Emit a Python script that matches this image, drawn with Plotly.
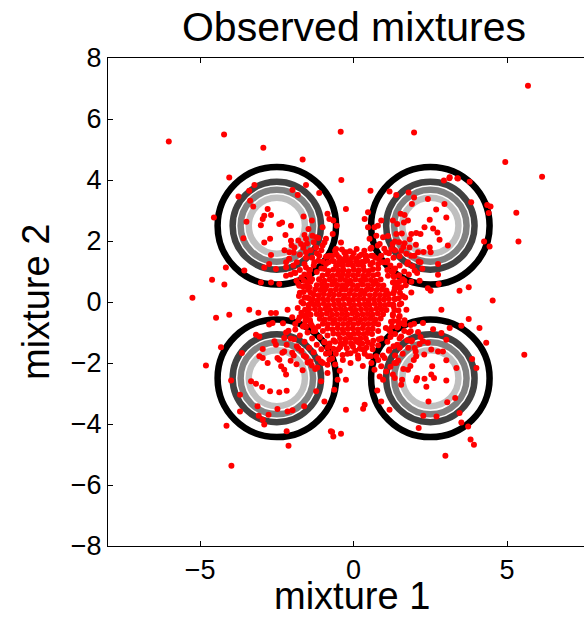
import plotly.graph_objects as go

# ---------------- data ----------------
title_text = "Observed mixtures"
x_label = "mixture 1"
y_label = "mixture 2"
x_ticks = [-5, 0, 5]
y_ticks = [-8, -6, -4, -2, 0, 2, 4, 6, 8]

# contour circles: centres and radii (levels from inner to outer)
circle_cx = [-2.5, 2.5, -2.5, 2.5]
circle_cy = [2.5, 2.5, -2.5, -2.5]
ring_radius = [0.915, 1.18, 1.44, 1.93]
ring_color = ["#bfbfbf", "#808080", "#404040", "#000000"]

# dense central cloud
core_x = [-0.52, -0.35, -0.18, -0.02, 0.15, 0.31,
          -0.82, -0.66, -0.49, -0.33, -0.16, 0.01, 0.17, 0.34, 0.50, 0.63,
          -1.01, -0.85, -0.68, -0.52, -0.35, -0.19, -0.02, 0.14, 0.31, 0.47, 0.64, 0.79,
          -1.12, -0.95, -0.78, -0.61, -0.44, -0.27, -0.11, 0.06, 0.23, 0.39, 0.56, 0.72, 0.88,
          -1.20, -1.03, -0.87, -0.70, -0.53, -0.36, -0.20, -0.03, 0.14, 0.30, 0.47, 0.64, 0.80, 0.97,
          -1.25, -1.08, -0.92, -0.75, -0.58, -0.41, -0.25, -0.08, 0.09, 0.25, 0.42, 0.58, 0.75, 0.92, 1.07,
          -1.30, -1.14, -0.97, -0.80, -0.64, -0.47, -0.30, -0.14, 0.03, 0.20, 0.36, 0.53, 0.70, 0.86, 1.03, 1.14,
          -1.33, -1.17, -1.00, -0.84, -0.67, -0.50, -0.34, -0.17, -0.01, 0.16, 0.33, 0.49, 0.66, 0.83, 0.99, 1.15,
          -1.30, -1.14, -0.97, -0.81, -0.64, -0.47, -0.31, -0.14, 0.02, 0.19, 0.36, 0.52, 0.69, 0.86, 1.02, 1.16,
          -1.26, -1.09, -0.92, -0.76, -0.59, -0.42, -0.26, -0.09, 0.07, 0.24, 0.41, 0.57, 0.74, 0.91, 1.07,
          -1.20, -1.04, -0.87, -0.70, -0.54, -0.37, -0.21, -0.04, 0.13, 0.29, 0.46, 0.62, 0.79, 0.96,
          -1.10, -0.94, -0.77, -0.61, -0.44, -0.28, -0.11, 0.05, 0.22, 0.38, 0.55, 0.71, 0.88,
          -1.00, -0.84, -0.67, -0.51, -0.34, -0.18, -0.01, 0.15, 0.32, 0.48, 0.65, 0.80,
          -0.85, -0.69, -0.52, -0.36, -0.19, -0.03, 0.14, 0.30, 0.47, 0.62,
          -0.66, -0.50, -0.33, -0.17, 0.00, 0.16, 0.33, 0.46,
          -0.44, -0.27, -0.10, 0.06, 0.22]
core_y = [1.21, 1.18, 1.23, 1.19, 1.22, 1.17,
          1.02, 1.06, 1.03, 1.05, 1.01, 1.06, 1.03, 1.04, 1.02, 1.07,
          0.87, 0.90, 0.86, 0.89, 0.91, 0.87, 0.88, 0.90, 0.86, 0.89, 0.88, 0.91,
          0.73, 0.70, 0.74, 0.71, 0.73, 0.72, 0.70, 0.74, 0.71, 0.73, 0.72, 0.70, 0.74,
          0.55, 0.58, 0.54, 0.57, 0.56, 0.55, 0.58, 0.56, 0.54, 0.57, 0.55, 0.58, 0.56, 0.54,
          0.41, 0.39, 0.42, 0.38, 0.41, 0.40, 0.42, 0.39, 0.41, 0.38, 0.40, 0.42, 0.39, 0.41, 0.38,
          0.25, 0.22, 0.26, 0.23, 0.24, 0.25, 0.22, 0.26, 0.23, 0.24, 0.26, 0.22, 0.25, 0.23, 0.24, 0.26,
          0.09, 0.06, 0.10, 0.07, 0.08, 0.06, 0.10, 0.09, 0.07, 0.08, 0.10, 0.06, 0.09, 0.07, 0.08, 0.10,
          -0.07, -0.09, -0.06, -0.10, -0.08, -0.07, -0.09, -0.06, -0.10, -0.08, -0.07, -0.09, -0.06, -0.08, -0.10, -0.07,
          -0.23, -0.25, -0.22, -0.26, -0.24, -0.23, -0.25, -0.22, -0.26, -0.24, -0.23, -0.25, -0.22, -0.24, -0.26,
          -0.39, -0.41, -0.38, -0.42, -0.40, -0.39, -0.41, -0.38, -0.42, -0.40, -0.39, -0.41, -0.38, -0.40,
          -0.55, -0.57, -0.54, -0.58, -0.56, -0.55, -0.57, -0.54, -0.58, -0.56, -0.55, -0.57, -0.54,
          -0.71, -0.73, -0.70, -0.74, -0.72, -0.71, -0.73, -0.70, -0.74, -0.72, -0.71, -0.73,
          -0.87, -0.89, -0.86, -0.90, -0.88, -0.87, -0.89, -0.86, -0.90, -0.88,
          -1.03, -1.05, -1.02, -1.06, -1.04, -1.03, -1.05, -1.02,
          -1.19, -1.21, -1.18, -1.22, -1.20]

# band just outside the solid core
band_x = [-1.00, -0.82, -0.64, -0.46, -0.28, -0.10, 0.08, 0.26, 0.44, 0.62, 0.80,
          -0.90, -0.70, -0.48, -0.25, -0.05, 0.18, 0.40, 0.58, 0.82,
          -0.60, -0.38, -0.12, 0.10, 0.35, 0.55,
          -0.95, -0.78, -0.60, -0.42, -0.25, -0.08, 0.10, 0.28, 0.46, 0.64, 0.82,
          -0.85, -0.66, -0.44, -0.22, -0.02, 0.20, 0.42, 0.62, 0.80,
          -0.58, -0.36, -0.10, 0.14, 0.36, 0.56,
          -1.42, -1.45, -1.40, -1.44, -1.40, -1.46, -1.41, -1.45, -1.40, -1.44, -1.36, -1.30,
          -1.60, -1.62, -1.58, -1.63, -1.60, -1.64, -1.58, -1.62, -1.57, -1.55,
          -1.80, -1.78, -1.82, -1.76,
          1.30, 1.32, 1.28, 1.34, 1.30, 1.33, 1.29, 1.33, 1.28, 1.30, 1.25, 1.20,
          1.48, 1.50, 1.46, 1.51, 1.47, 1.50, 1.46, 1.50, 1.45, 1.42,
          1.70, 1.68, 1.72, 1.66]
band_y = [1.32, 1.30, 1.34, 1.31, 1.36, 1.30, 1.34, 1.31, 1.36, 1.29, 1.25,
          1.48, 1.52, 1.47, 1.50, 1.47, 1.50, 1.46, 1.52, 1.42,
          1.68, 1.72, 1.66, 1.74, 1.68, 1.75,
          -1.32, -1.36, -1.30, -1.35, -1.31, -1.36, -1.30, -1.36, -1.32, -1.27, -1.22,
          -1.50, -1.53, -1.48, -1.52, -1.47, -1.53, -1.49, -1.55, -1.42,
          -1.70, -1.74, -1.68, -1.75, -1.70, -1.78,
          1.05, 0.85, 0.66, 0.48, 0.30, 0.12, -0.06, -0.24, -0.42, -0.60, -0.78, -0.96,
          0.90, 0.70, 0.52, 0.33, 0.14, -0.05, -0.25, -0.45, -0.62, -0.82,
          0.60, 0.20, -0.20, -0.50,
          1.02, 0.82, 0.64, 0.46, 0.28, 0.10, -0.08, -0.26, -0.44, -0.62, -0.80, -0.98,
          0.88, 0.68, 0.50, 0.30, 0.12, -0.08, -0.28, -0.46, -0.64, -0.84,
          0.55, 0.15, -0.25, -0.60]

# ring around the core and the four diagonal arms
mid_x = [-0.90, -0.70, -0.40, -0.15, 0.10, 0.35, 0.55, 0.80, -1.05, -0.55, 0.00, 0.25, -0.30, 0.70, -0.85, 0.95, 1.10, -1.20,
         -0.85, -0.65, -0.30, -0.05, 0.20, 0.40, 0.60, 0.80, -1.00, -0.50, 0.05, 0.30, -0.20, 0.60, -0.80, 0.90, 1.05, -1.15,
         -1.45, -1.50, -1.48, -1.52, -1.47, -1.50, -1.42, -1.30, -1.65, -1.70, -1.62, -1.35, -1.60, -1.75,
         1.30, 1.35, 1.32, 1.36, 1.30, 1.28, 1.22, 1.15, 1.50, 1.55, 1.48, 1.25, 1.45, 1.60,
         -1.30, -1.45, -1.15, -1.60, -1.35, -1.75, -1.20, -1.55, -1.85, -1.05, -1.70, -1.90, -0.95, -1.40,
         1.20, 1.35, 1.10, 1.50, 1.30, 1.65, 1.15, 1.50, 1.75, 1.00, 1.60, 1.80, 0.85, 1.35,
         1.20, 1.35, 1.10, 1.50, 1.30, 1.65, 1.15, 1.50, 1.75, 0.95, 1.60, 1.80, 0.80, 1.35,
         -1.70, -1.55, -1.40, -1.25, -1.10, -0.95, -1.80, -1.65, -1.50, -1.35, -1.20, -1.05, -0.90, -1.90,
         -1.75, -1.60, -1.45, -1.30, -1.15, -2.00, -2.05, -1.85, -1.70, -1.55, -1.40, -0.70, -0.60, -1.00,
         -2.20, -2.30, -1.95, -1.25, -0.45, -0.35, -0.10, 0.15, 0.30]
mid_y = [1.25, 1.35, 1.40, 1.38, 1.42, 1.33, 1.22, 1.10, 1.10, 1.55, 1.60, 1.55, 1.62, 1.45, 1.50, 1.30, 1.05, 0.98,
         -1.10, -1.25, -1.38, -1.40, -1.35, -1.20, -1.05, -0.95, -0.95, -1.55, -1.60, -1.55, -1.70, -1.40, -1.45, -1.20, -0.85, -0.80,
         0.90, 0.65, 0.40, 0.15, -0.10, -0.35, -0.60, -0.85, 0.50, 0.00, -0.45, 0.75, -0.75, 0.30,
         0.85, 0.60, 0.35, 0.10, -0.15, -0.40, -0.65, -0.90, 0.45, -0.05, -0.50, 1.00, -0.80, 0.20,
         1.20, 1.05, 1.35, 1.25, 1.45, 1.05, 1.60, 1.45, 1.30, 1.70, 0.80, 0.95, 1.95, 1.70,
         1.20, 1.10, 1.35, 1.20, 1.45, 1.00, 1.60, 1.50, 1.25, 1.75, 0.75, 0.90, 1.90, 1.70,
         -1.15, -1.05, -1.30, -1.20, -1.45, -0.95, -1.60, -1.50, -1.25, -1.75, -0.70, -1.00, -1.90, -1.75,
         -0.35, -0.50, -0.70, -0.95, -1.15, -1.30, -0.60, -0.80, -1.00, -1.20, -1.40, -1.55, -1.70, -0.90,
         -1.10, -1.30, -1.50, -1.65, -1.85, -0.50, -1.20, -1.45, -1.60, -1.80, -1.95, -1.85, -2.05, -2.00,
         -1.00, -0.70, -1.75, -2.20, -2.25, -1.90, -2.00, -1.85, -2.10]

# outer parts of the four diagonal arms
arm_x = [1.72, 1.98, 1.62, 2.12, 1.48, 2.03, 1.83, 2.28, 1.57, 1.27, 1.92, 2.24, 1.12, 1.88, 2.07,
         1.78, 2.02, 1.60, 2.15, 1.45, 1.96, 1.85, 2.30, 1.62, 1.33, 1.90, 2.18, 1.20, 1.86, 2.10,
         -1.80, -2.00, -1.62, -2.18, -1.50, -2.05, -1.86, -2.32, -1.66, -1.36, -1.94, -2.26, -1.18, -1.90, -2.12,
         -1.75, -1.95, -1.64, -2.10, -1.52, -2.02, -1.80, -2.25, -1.60, -1.30, -1.96, -2.20, -1.15, -1.86, -2.05]
arm_y = [1.58, 1.52, 1.80, 1.33, 1.96, 1.88, 2.06, 1.64, 2.25, 1.90, 1.17, 1.09, 2.16, 0.66, 0.95,
         -1.50, -1.62, -1.70, -1.38, -1.92, -1.90, -2.10, -1.72, -2.20, -2.00, -1.25, -1.15, -2.12, -0.75, -0.98,
         -1.52, -1.66, -1.76, -1.40, -1.98, -1.93, -2.04, -1.66, -2.24, -2.08, -1.22, -1.18, -2.15, -0.72, -0.94,
         1.55, 1.62, 1.78, 1.42, 1.92, 1.86, 2.02, 1.70, 2.20, 1.96, 1.20, 1.14, 2.10, 0.70, 0.90]

# points in and around the upper-left contour
ul_x = [-4.55, -4.16, -4.61, -4.21, -3.23, -3.40, -3.75, -3.37, -3.27, -1.99, -1.82, -1.55, -1.12,
        -2.80, -2.91, -2.69, -2.96, -3.02, -3.49, -2.42, -2.33, -2.04, -1.63, -1.36, -1.47, -0.85,
        -0.79, -0.66, -0.25, -0.55, -1.01, -3.59, -2.72, -2.22, -2.04, -2.91, -1.55, -1.34, -1.22,
        -1.93, -1.71, -1.55, -2.09, -2.69, -2.53, -2.75, -2.20, -2.91, -3.56, -3.02, -2.69, -2.42,
        -2.20, -1.93, -1.55, -1.28, -1.12, -1.01, -1.22, -0.90, -0.68, -0.41, -0.57, -0.79, -0.95,
        -0.57, -0.36, -0.25, -1.44, -1.12, -1.77, -1.44, -1.01, -0.68, -0.41, -0.30]
ul_y = [2.77, 1.13, 0.73, 0.57, 3.84, 3.65, 3.46, 3.32, 3.13, 3.67, 3.51, 3.84, 3.57,
        3.05, 2.83, 2.85, 2.72, 2.52, 2.63, 2.56, 2.61, 2.50, 2.80, 2.67, 2.39, 2.89,
        2.72, 2.67, 3.05, 2.50, 2.45, 2.09, 2.07, 2.20, 2.01, 1.95, 2.07, 2.17, 2.12,
        1.79, 1.90, 1.63, 1.63, 1.54, 1.08, 1.25, 1.30, 1.13, 1.03, 0.64, 0.64, 0.59,
        0.86, 0.97, 1.13, 1.30, 1.52, 1.85, 1.79, 2.07, 2.23, 1.95, 1.74, 1.52, 1.08,
        1.19, 1.30, 1.63, 0.81, 0.75, 0.53, 0.48, 0.48, 0.59, 0.81, 0.43]

# points in and around the upper-right contour
ur_x = [3.13, 3.40, 2.94, 3.78, 4.35, 4.40, 4.25, 4.43, 3.83, 2.96, 2.42, 1.97, 1.79, 1.39, 1.17, 0.55,
        1.90, 3.02, 2.69, 2.48, 2.31, 2.59, 2.73, 2.80, 3.07, 2.48, 2.51, 2.75, 2.75, 2.77, 2.42, 2.51,
        3.45, 3.75, 1.88, 2.04, 2.18, 1.77, 1.64, 1.53, 1.66, 1.42, 1.28, 1.39, 1.34, 1.66, 1.23, 1.55,
        1.82, 2.10, 1.88, 2.18, 1.77, 1.99, 2.15, 1.66, 1.55, 1.88, 1.39, 1.12, 1.28, 1.06, 0.90, 1.06,
        0.79, 0.96, 0.74, 0.68, 0.79, 0.47, 0.36, 0.47, 0.90, 0.52, 0.58, 0.41, 0.63]
ur_y = [4.09, 4.05, 3.98, 3.94, 3.18, 2.92, 1.98, 1.82, 3.27, 3.21, 3.38, 3.43, 3.59, 3.51, 3.62, 3.65,
        3.21, 2.77, 3.03, 2.70, 2.45, 2.41, 2.28, 2.04, 1.85, 1.79, 1.63, 1.25, 0.89, 0.59, 0.45, 0.37,
        0.37, 0.48, 2.23, 2.26, 2.23, 2.67, 2.61, 2.89, 2.85, 2.56, 2.67, 2.23, 1.98, 1.93, 1.74, 1.68,
        1.79, 1.63, 1.52, 1.30, 1.30, 1.03, 0.70, 0.70, 0.48, 0.31, 0.64, 0.86, 1.03, 1.30, 1.52, 1.63,
        1.85, 2.12, 2.17, 2.45, 2.50, 2.45, 2.72, 2.94, 2.67, 2.07, 1.78, 1.52, 1.52]

# points in and around the lower-left contour
ll_x = [-4.48, -4.05, -3.10, -4.32, -4.14, -2.12, -0.74, -0.66, -0.41, -0.25, -3.40, -2.69, -2.53, -2.15,
        -2.75, -2.64, -3.18, -3.07, -3.64, -2.58, -2.53, -2.96, -2.26, -3.07, -2.96, -2.80, -2.48, -2.42,
        -2.36, -2.26, -2.20, -3.99, -3.34, -3.18, -2.98, -2.72, -2.42, -2.18, -3.70, -3.13, -3.70, -2.77,
        -2.48, -2.15, -1.99, -1.61, -3.09, -2.96, -2.91, -2.18, -1.22, -1.06, -0.95, -0.63, -0.85, -0.52,
        -0.25, -0.79, -0.79, -1.06, -0.85, -4.81, -0.70]
ll_y = [-0.52, -0.42, -0.35, -1.48, -4.06, -4.71, -4.24, -4.41, -4.32, -3.53, -0.25, -0.36, -0.36, -0.25,
        -0.74, -0.69, -1.07, -1.13, -1.67, -1.29, -1.40, -1.54, -1.62, -1.78, -1.84, -2.00, -1.84, -1.89,
        -2.11, -2.22, -2.38, -2.57, -2.60, -2.68, -2.79, -2.93, -2.96, -2.91, -3.04, -3.42, -3.59, -3.70,
        -3.51, -3.59, -3.55, -3.42, -3.73, -3.86, -4.02, -4.24, -2.93, -2.60, -3.26, -2.88, -2.33, -2.55,
        -2.55, -1.67, -1.89, -1.95, -2.06, -2.08, -4.26]

# points in and around the lower-right contour
lr_x = [3.75, 4.10, 4.32, 2.86, 4.00, 3.86, 3.73, 3.81, 3.92, 3.51, 3.45, 2.12, 0.36, 0.31, 0.77, 0.90, 1.17,
        2.04, 2.56, 3.02, 3.35, 2.53, 2.31, 2.62, 3.02, 2.04, 2.07, 2.37, 1.77, 1.55, 1.58, 1.34, 2.44,
        3.05, 3.31, 2.27, 2.70, 2.86, 2.59, 3.13, 3.51, 2.53, 2.75, 2.91, 2.42, 3.02, 1.99, 2.26, 1.88,
        1.66, 1.97, 2.26, 1.86, 1.55, 1.42, 1.17, 1.01, 0.90, 1.06, 1.28, 1.39, 0.85, 0.96, 0.68, 0.58,
        0.74, 0.47, 0.36, 2.99, 4.53]
lr_y = [-0.56, -0.85, -1.34, -0.25, -2.16, -1.87, -4.08, -4.51, -4.68, -3.95, -3.64, -4.13, -3.37, -3.50, -2.90, -3.26, -3.53,
        -1.78, -2.11, -1.91, -2.16, -2.38, -2.52, -2.49, -2.57, -2.57, -2.49, -2.78, -2.22, -2.71, -2.55, -2.49, -3.26,
        -3.29, -3.15, -3.73, -3.75, -1.02, -0.89, -0.85, -0.78, -1.56, -1.62, -1.62, -1.34, -1.24, -1.51, -1.29, -1.29,
        -0.74, -0.71, -0.69, -0.96, -1.13, -1.40, -1.56, -1.84, -2.11, -2.28, -2.38, -2.00, -2.44, -2.55, -2.22, -2.00,
        -1.78, -1.78, -1.56, -5.04, 0.05]

# far-away points
far_x = [-6.02, -4.22, -2.94, -1.66, -0.42, 1.97, 5.68, 4.94, 6.14, -4.05, -0.40, 3.12, 3.38,
         -5.25, -3.98, 5.56, 5.37, 5.30, 4.46]
far_y = [5.26, 5.49, 5.06, 4.67, 5.58, 5.56, 7.09, 4.59, 4.11, 4.08, 4.00, 4.06, 4.06,
         0.14, -5.37, -1.73, 1.98, 2.93, 3.13]

# ---------------- figure ----------------
all_x = core_x + band_x + mid_x + arm_x + ul_x + ur_x + ll_x + lr_x + far_x
all_y = core_y + band_y + mid_y + arm_y + ul_y + ur_y + ll_y + lr_y + far_y

fig = go.Figure()
fig.add_trace(go.Scatter(
    x=all_x, y=all_y, mode="markers",
    marker=dict(color="#ff0000", size=6, line=dict(width=0)),
    showlegend=False, hoverinfo="skip"))

shapes = []
for cx, cy in zip(circle_cx, circle_cy):
    for r, c in zip(ring_radius, ring_color):
        shapes.append(dict(type="circle", xref="x", yref="y",
                           x0=cx - r, x1=cx + r, y0=cy - r, y1=cy + r,
                           line=dict(color=c, width=6.5), layer="below"))

FONT = "Liberation Sans, Arial, Helvetica, sans-serif"
fig.update_layout(
    width=584, height=619,
    margin=dict(l=108, r=0, t=58, b=73),
    paper_bgcolor="white", plot_bgcolor="white",
    shapes=shapes,
    font=dict(family=FONT, color="black"),
    title=dict(text=title_text, font=dict(size=41, family=FONT, color="black"),
               xref="container", yref="container", x=354 / 584, y=1 - 27 / 619,
               xanchor="center", yanchor="middle"),
    annotations=[
        dict(text=x_label, xref="paper", yref="paper", x=(352 - 108) / 476, y=-73 / 488,
             xanchor="center", yanchor="bottom", showarrow=False,
             font=dict(size=38, family=FONT, color="black")),
        dict(text=y_label, xref="paper", yref="paper", x=-72 / 476, y=0.5, textangle=-90,
             xanchor="center", yanchor="middle", showarrow=False,
             font=dict(size=38, family=FONT, color="black")),
    ],
    xaxis=dict(range=[-8, 7.505], tickvals=x_ticks, ticks="inside", ticklen=5,
               tickcolor="black", showline=True, linecolor="black", linewidth=1,
               mirror="ticks", showgrid=False, zeroline=False, automargin=False,
               tickfont=dict(size=27, family=FONT), ticklabelstandoff=0),
    yaxis=dict(range=[-8, 8], tickvals=y_ticks, ticks="inside", ticklen=5,
               tickcolor="black", showline=True, linecolor="black", linewidth=1,
               mirror=False, showgrid=False, zeroline=False, automargin=False,
               tickfont=dict(size=27, family=FONT), ticklabelstandoff=0),
)

# remove the browser's default 8 px body margin so the figure fills the window
fig.write_html("out.html", config={"displayModeBar": False},
               post_script="document.body.style.margin='0';")
